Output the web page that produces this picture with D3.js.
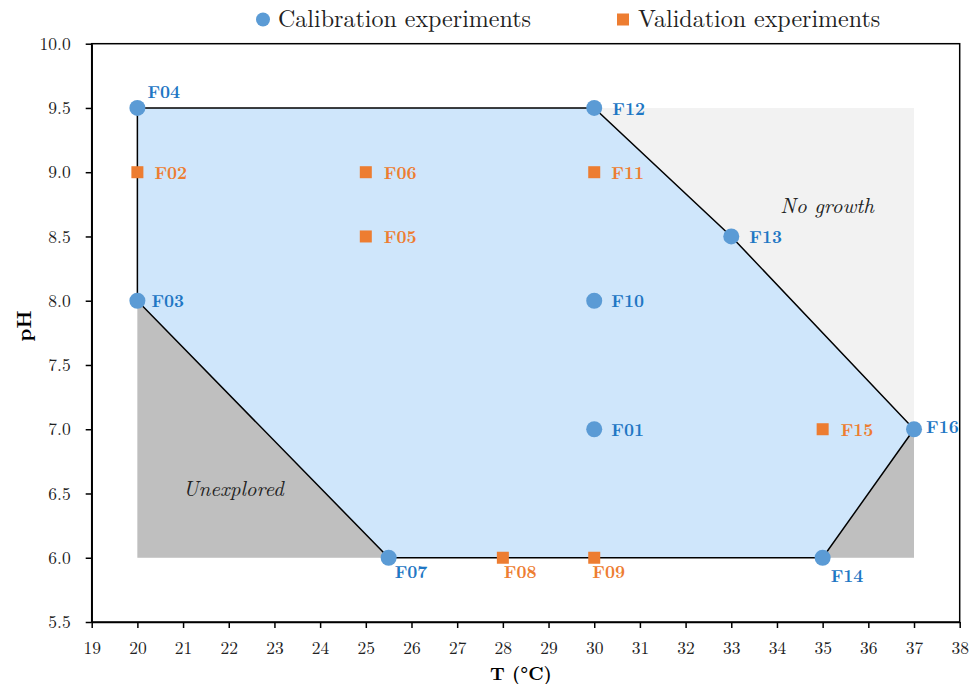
<!DOCTYPE html>
<html><head><meta charset="utf-8">
<script src="https://cdn.jsdelivr.net/npm/d3@7"></script>
<style>body{margin:0;background:#fff}svg{display:block}</style>
</head><body>
<script>
const xTicks = [19,20,21,22,23,24,25,26,27,28,29,30,31,32,33,34,35,36,37,38];
const yTicks = [5.5,6.0,6.5,7.0,7.5,8.0,8.5,9.0,9.5,10.0];
const calibNames = ["F04","F03","F12","F13","F10","F01","F16","F14","F07"];
const calibT = [20,20,30,33,30,30,37,35,25.5];
const calibPH = [9.5,8.0,9.5,8.5,8.0,7.0,7.0,6.0,6.0];
const validNames = ["F02","F06","F05","F11","F15","F08","F09"];
const validT = [20,25,25,30,35,28,30];
const validPH = [9.0,9.0,8.5,9.0,7.0,6.0,6.0];
// explored domain polygon (vertices)
const domainT = [20,30,33,37,35,25.5,20];
const domainPH = [9.5,9.5,8.5,7.0,6.0,6.0,8.0];
const noGrowthT = [20,37,37,20];
const noGrowthPH = [9.5,9.5,6.0,6.0];
const unexpl1T = [20,20,25.5]; const unexpl1PH = [8.0,6.0,6.0];
const unexpl2T = [35,37,37]; const unexpl2PH = [6.0,6.0,7.0];

const W=974,H=684;
const m={l:91.7,r:974-959.7,t:43.7,b:684-622};
const svg=d3.select("body").append("svg").attr("width",W).attr("height",H);
const x=d3.scaleLinear().domain([19,38]).range([m.l,W-m.r]);
const y=d3.scaleLinear().domain([5.5,10]).range([H-m.b,m.t]);
const font="'Latin Modern Roman','CMU Serif','Liberation Serif','DejaVu Serif',serif";
const pts=(T,P)=>T.map((t,i)=>[x(t),y(P[i])]);
const line=d3.line();
const poly=(T,P)=>line(pts(T,P))+"Z";

svg.append("path").attr("d",poly(noGrowthT,noGrowthPH)).attr("fill","#f2f2f2");
svg.append("path").attr("d",poly(unexpl1T,unexpl1PH)).attr("fill","#bfbfbf");
svg.append("path").attr("d",poly(unexpl2T,unexpl2PH)).attr("fill","#bfbfbf");
svg.append("path").attr("d",poly(domainT,domainPH)).attr("fill","#cfe6fb").attr("stroke","#000").attr("stroke-width",1.5);

// frame
svg.append("rect").attr("x",x(19)).attr("y",y(10)).attr("width",x(38)-x(19)).attr("height",y(5.5)-y(10))
  .attr("fill","none").attr("stroke","#000").attr("stroke-width",1.5);

const gx=svg.append("g").attr("transform",`translate(0,${y(5.5)})`)
  .call(d3.axisBottom(x).tickValues(xTicks).tickFormat(d3.format("d")).tickSizeOuter(0).tickSizeInner(6).tickPadding(13.5));
const gy=svg.append("g").attr("transform",`translate(${x(19)},0)`)
  .call(d3.axisLeft(y).tickValues(yTicks).tickFormat(d3.format(".1f")).tickSizeOuter(0).tickSizeInner(6).tickPadding(15));
[gx,gy].forEach(g=>{g.select(".domain").attr("stroke","#000").attr("stroke-width",1.5);
  g.selectAll(".tick line").attr("stroke","#000").attr("stroke-width",1.5);
  g.selectAll(".tick text").attr("font-family",font).attr("font-size",17.5).attr("fill","#222");});

svg.append("text").attr("x",521).attr("y",680).attr("text-anchor","middle")
  .attr("font-family",font).attr("font-size",18.5).attr("font-weight","bold").text("T (°C)");
svg.append("text").attr("transform",`translate(31,326) rotate(-90)`).attr("text-anchor","middle")
  .attr("font-family",font).attr("font-size",20).attr("font-weight","bold").text("pH");

svg.append("text").attr("x",x(35.1)).attr("y",y(8.68)).attr("text-anchor","middle")
  .attr("font-family",font).attr("font-size",21).attr("font-style","italic").attr("fill","#222").text("No growth");
svg.append("text").attr("x",x(22.1)).attr("y",y(6.48)).attr("text-anchor","middle")
  .attr("font-family",font).attr("font-size",21).attr("font-style","italic").attr("fill","#222").text("Unexplored");

const blue="#5b9bd5", orange="#ed7d31", blueTxt="#1f77c4";
// label offsets (pixels)
const calibOff={F04:[10,-10],F03:[14,6.5],F12:[18,7.5],F13:[18,6.5],F10:[17,6.5],F01:[17,6.5],F16:[12,4],F14:[8,24],F07:[6,20]};
const validOff={F02:[17,6.5],F06:[18,6.5],F05:[18,6.5],F11:[17,6.5],F15:[18,6.5],F08:[1,20],F09:[-2,20]};

calibNames.forEach((n,i)=>{
  svg.append("circle").attr("cx",x(calibT[i])).attr("cy",y(calibPH[i])).attr("r",8).attr("fill",blue);
  svg.append("text").attr("x",x(calibT[i])+calibOff[n][0]).attr("y",y(calibPH[i])+calibOff[n][1])
    .attr("font-family",font).attr("font-size",17.5).attr("font-weight","bold").attr("fill",blueTxt).text(n);
});
validNames.forEach((n,i)=>{
  svg.append("rect").attr("x",x(validT[i])-6).attr("y",y(validPH[i])-6).attr("width",12).attr("height",12).attr("fill",orange);
  svg.append("text").attr("x",x(validT[i])+validOff[n][0]).attr("y",y(validPH[i])+validOff[n][1])
    .attr("font-family",font).attr("font-size",17.5).attr("font-weight","bold").attr("fill",orange).text(n);
});

// legend
const lg=svg.append("g");
lg.append("circle").attr("cx",263).attr("cy",19.5).attr("r",7).attr("fill",blue);
lg.append("text").attr("x",278).attr("y",27).attr("font-family",font).attr("font-size",24).attr("fill","#222").text("Calibration experiments");
lg.append("rect").attr("x",617).attr("y",13.5).attr("width",12).attr("height",12).attr("fill",orange);
lg.append("text").attr("x",638).attr("y",27).attr("font-family",font).attr("font-size",24).attr("fill","#222").text("Validation experiments");
</script>
</body></html>
